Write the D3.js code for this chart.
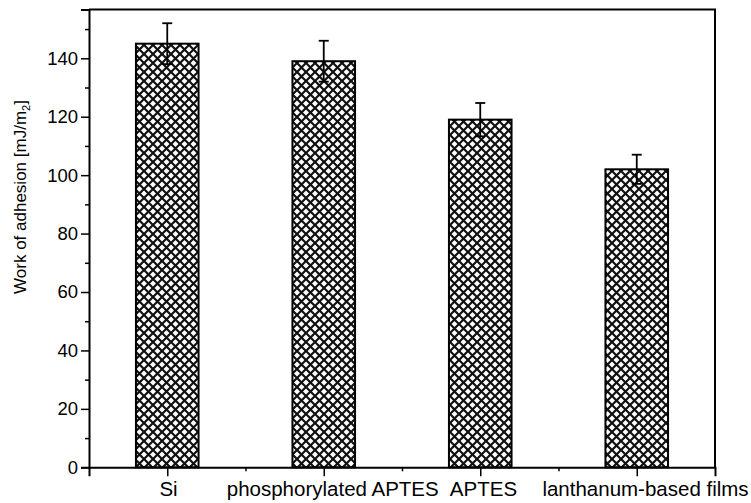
<!DOCTYPE html>
<html>
<head>
<meta charset="utf-8">
<script src="https://cdn.jsdelivr.net/npm/d3@7"></script>
<style>
  html, body { margin: 0; padding: 0; background: #fff; }
  svg { display: block; font-family: "Liberation Sans", Arial, sans-serif; }
</style>
</head>
<body>
<svg id="chart" width="751" height="503"></svg>
<script>
// Work of adhesion per surface treatment
const categories = ["Si", "phosphorylated APTES", "APTES", "lanthanum-based films"];
const categoryPos = [1, 3, 5, 7];
const values = [145, 139, 119, 102];
const errors = [7, 7, 5.7, 5];
const yMajorTicks = [0, 20, 40, 60, 80, 100, 120, 140];
const yMinorTicks = [10, 30, 50, 70, 90, 110, 130, 150];
const xMinorTicks = [2, 4, 6];
const yLabel = "Work of adhesion [mJ/m";
const yLabelSub = "2";

const svg = d3.select("#chart");
const plotLeft = 89, plotRight = 715, plotTop = 9.5, plotBottom = 467.3;

const x = d3.scaleLinear().domain([0, 8]).range([plotLeft, plotRight]);
const y = d3.scaleLinear().domain([0, 156.7]).range([plotBottom, plotTop]);

// Cross-hatch fill
const defs = svg.append("defs");
const pat = defs.append("pattern")
  .attr("id", "xhatch")
  .attr("patternUnits", "userSpaceOnUse")
  .attr("width", 9).attr("height", 9);
pat.append("rect").attr("width", 9).attr("height", 9).attr("fill", "#fff");
pat.append("path")
  .attr("d", "M-1,-1 L10,10 M10,-1 L-1,10")
  .attr("stroke", "#111").attr("stroke-width", 2.2).attr("fill", "none");

// Bars
const barW = x(0.8) - x(0);
svg.append("g").selectAll("rect")
  .data(values)
  .join("rect")
  .attr("x", (d, i) => x(categoryPos[i]) - barW / 2)
  .attr("y", d => y(d))
  .attr("width", barW)
  .attr("height", d => y(0) - y(d))
  .attr("fill", "url(#xhatch)")
  .attr("stroke", "#000")
  .attr("stroke-width", 2);

// Error bars
const eb = svg.append("g").attr("stroke", "#000").attr("stroke-width", 1.8).attr("fill", "none");
values.forEach((v, i) => {
  const cx = x(categoryPos[i]);
  const hi = y(v + errors[i]), lo = y(v - errors[i]);
  eb.append("line").attr("x1", cx).attr("x2", cx).attr("y1", hi).attr("y2", lo);
  eb.append("line").attr("x1", cx - 5).attr("x2", cx + 5).attr("y1", hi).attr("y2", hi);
  eb.append("line").attr("x1", cx - 5).attr("x2", cx + 5).attr("y1", lo).attr("y2", lo);
});

// Frame (top and right)
svg.append("path")
  .attr("d", `M${plotLeft},${plotTop} H${plotRight} V${plotBottom}`)
  .attr("fill", "none").attr("stroke", "#000").attr("stroke-width", 2);

// Y axis
const yAxis = svg.append("g").attr("transform", `translate(${plotLeft},0)`)
  .call(d3.axisLeft(y).tickValues(yMajorTicks).tickSize(8).tickPadding(3).tickFormat(d3.format("d")));
svg.append("g").attr("transform", `translate(${plotLeft},0)`)
  .call(d3.axisLeft(y).tickValues(yMinorTicks).tickSize(4).tickFormat(""))
  .call(g => g.select(".domain").remove());

// X axis
const xAxis = svg.append("g").attr("transform", `translate(0,${plotBottom})`)
  .call(d3.axisBottom(x).tickValues(categoryPos).tickSize(9).tickPadding(5)
    .tickFormat((d, i) => categories[i]));
svg.append("g").attr("transform", `translate(0,${plotBottom})`)
  .call(d3.axisBottom(x).tickValues(xMinorTicks).tickSize(4).tickFormat(""))
  .call(g => g.select(".domain").remove());

svg.selectAll(".domain").attr("stroke-width", 2).attr("stroke", "#000");
svg.selectAll(".tick line").attr("stroke-width", 1.5).attr("stroke", "#000");
yAxis.selectAll("text").attr("font-size", 18.5).attr("fill", "#000").attr("font-family", "Liberation Sans, Arial, sans-serif");
xAxis.selectAll("text").attr("font-size", 20.5).attr("fill", "#000").attr("font-family", "Liberation Sans, Arial, sans-serif")
  // category labels sit slightly right of their tick
  .attr("dx", function () { return 0.04 * this.getComputedTextLength(); });

// Y axis title
const yt = svg.append("text")
  .attr("transform", "translate(25.5,197) rotate(-90)")
  .attr("text-anchor", "middle")
  .attr("font-size", 17)
  .attr("fill", "#000");
yt.append("tspan").text(yLabel);
yt.append("tspan").attr("font-size", 11).attr("dy", 4).text(yLabelSub);
yt.append("tspan").attr("dy", -4).text("]");
</script>
</body>
</html>
